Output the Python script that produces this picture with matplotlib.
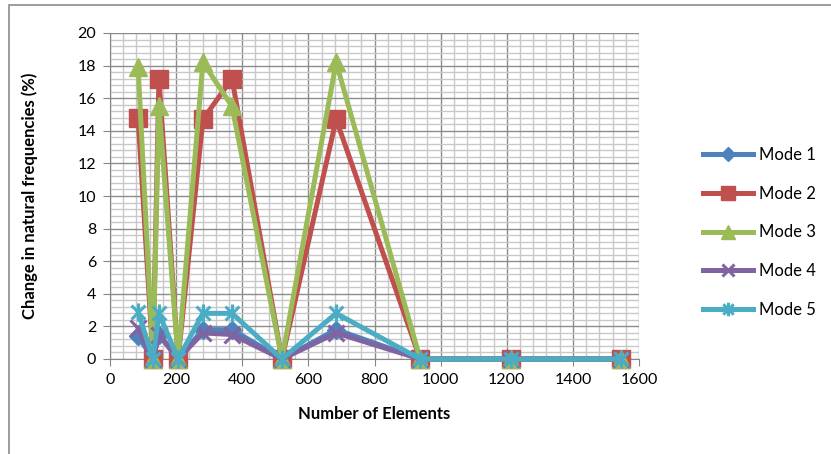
import matplotlib
matplotlib.use("Agg")
import matplotlib.pyplot as plt
from matplotlib.path import Path
from matplotlib.patches import Rectangle
from matplotlib.ticker import MultipleLocator

plt.rcParams['font.family'] = ['Lato', 'DejaVu Sans']

elements = [85, 130, 148, 206, 281, 369, 520, 684, 938, 1213, 1546]
mode1 = [1.4, 0, 1.5, 0, 1.8, 1.8, 0, 1.8, 0, 0, 0]
mode2 = [14.8, 0, 17.2, 0, 14.7, 17.2, 0, 14.7, 0, 0, 0]
mode3 = [17.9, 0, 15.5, 0, 18.2, 15.5, 0, 18.2, 0, 0, 0]
mode4 = [1.9, 0, 1.5, 0, 1.6, 1.5, 0, 1.6, 0, 0, 0]
mode5 = [2.9, 0, 2.8, 0, 2.8, 2.8, 0, 2.8, 0, 0, 0]
labels = ['Mode 1', 'Mode 2', 'Mode 3', 'Mode 4', 'Mode 5']
colors = ['#4F81BD', '#C0504D', '#9BBB59', '#8064A2', '#4BACC6']

star = Path([(-1, -1), (1, 1), (-1, 1), (1, -1), (0, -1.3), (0, 1.3)],
            [Path.MOVETO, Path.LINETO, Path.MOVETO, Path.LINETO, Path.MOVETO, Path.LINETO])
markers = ['D', 's', '^', 'x', star]
msizes = [9, 13, 13, 11, 13]

fig = plt.figure(figsize=(8.31, 4.54), dpi=100)
ax = fig.add_axes([110/831, 1-359/454, 529/831, 326/454])

series = [mode1, mode2, mode3, mode4, mode5]
for i, (vals, lab, c, m, ms) in enumerate(zip(series, labels, colors, markers, msizes)):
    filled = m in ('D', 's', '^')
    ax.plot(elements, vals, color=c, lw=3.6, marker=m, markersize=ms,
            markerfacecolor=c, markeredgecolor=c,
            markeredgewidth=1 if filled else 2.2,
            label=lab, clip_on=False, zorder=3 + i)

ax.set_xlim(0, 1600)
ax.set_ylim(0, 20)
ax.xaxis.set_major_locator(MultipleLocator(200))
ax.xaxis.set_minor_locator(MultipleLocator(40))
ax.yaxis.set_major_locator(MultipleLocator(2))
ax.yaxis.set_minor_locator(MultipleLocator(0.4))
ax.grid(which='minor', color='#C8C8C8', lw=1.0, zorder=0)
ax.grid(which='major', color='#8C8C8C', lw=1.0, zorder=1)
ax.set_axisbelow(True)
for s in ['top', 'right']:
    ax.spines[s].set_visible(False)
for s in ['left', 'bottom']:
    ax.spines[s].set_color('#868686')
ax.tick_params(which='minor', length=0)
ax.tick_params(which='major', length=5, color='#868686', labelsize=11.5, pad=5)

ax.set_xlabel('Number of Elements', fontsize=12, fontweight='bold', labelpad=14)
ax.set_ylabel('Change in natural frequencies (%)', fontsize=12, fontweight='bold', labelpad=28)

leg = fig.legend(loc='upper left', bbox_to_anchor=(688/831, 1-132/454), frameon=False,
                 fontsize=12, handlelength=3.0, handletextpad=0.35, labelspacing=1.36,
                 markerscale=0.75)

fig.patches.append(Rectangle((9/831, -0.1), 1.2, 1.1 - 5/454, transform=fig.transFigure,
                             fill=False, edgecolor='#8C8C8C', lw=1.2))

fig.savefig('out.png', dpi=100)
